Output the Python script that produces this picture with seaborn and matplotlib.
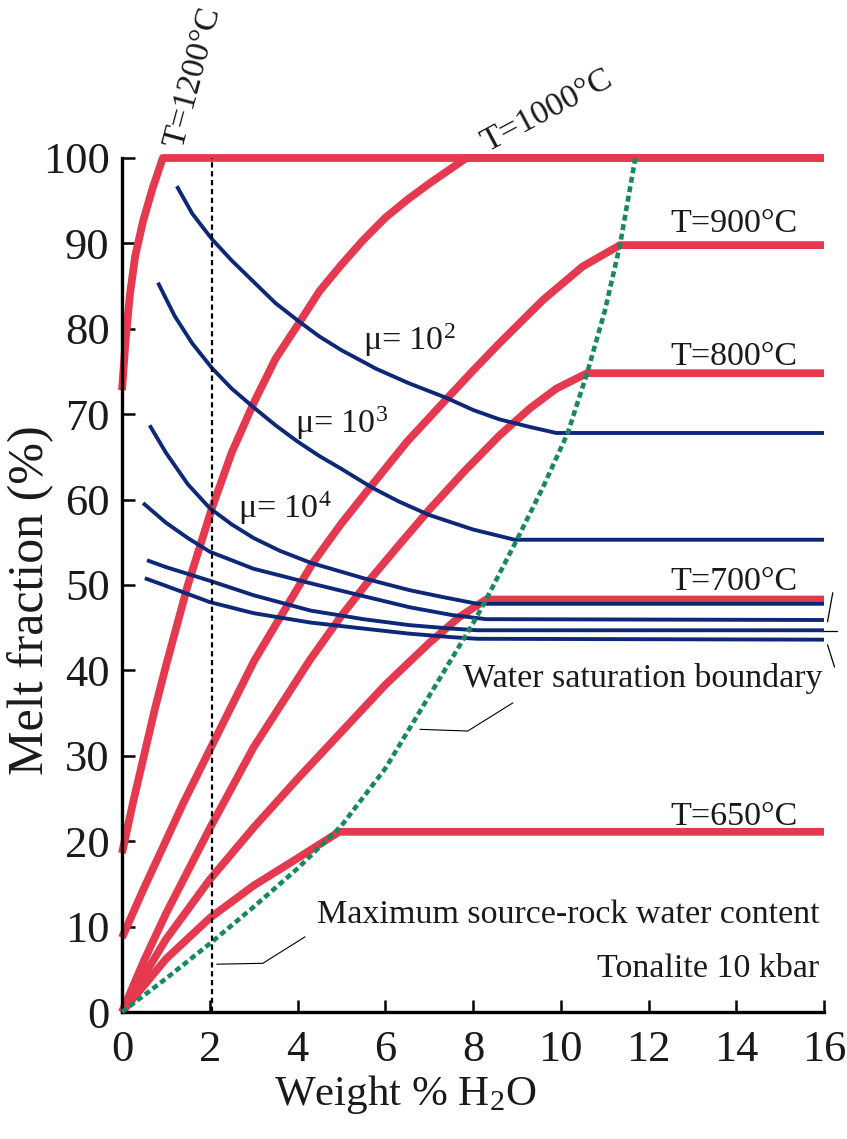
import numpy as np
import pandas as pd
import matplotlib
matplotlib.use("Agg")
import matplotlib.pyplot as plt
import seaborn as sns

# ---------------- data ----------------
t1200_x = [0, 0.08, 0.18, 0.30, 0.48, 0.70, 0.93, 16]
t1200_y = [72.8, 78.5, 84.0, 88.5, 92.6, 96.5, 100, 100]

t1000_x = [0, 0.25, 0.5, 0.75, 1.0, 1.5, 2.05, 2.5, 3.0, 3.5, 4.05, 4.5, 5.0, 5.5, 6.0, 6.5, 7.0, 7.85, 16]
t1000_y = [18.6, 24.5, 30.0, 35.5, 40.5, 50.0, 59.0, 65.5, 71.3, 76.5, 80.8, 84.4, 87.5, 90.4, 93.0, 95.1, 97.0, 100, 100]

t900_x = [0, 0.5, 0.87, 1.4, 2.0, 3.0, 3.3, 4.35, 5.0, 5.65, 6.5, 7.4, 8.0, 8.6, 9.6, 10.5, 11.35, 16]
t900_y = [8.7, 14.5, 18.6, 24.5, 30.7, 41.0, 43.6, 52.6, 57.2, 61.4, 66.8, 71.8, 75.1, 78.3, 83.4, 87.3, 89.8, 89.8]

t800_x = [0, 0.5, 1.0, 2.0, 3.0, 4.28, 5.0, 5.58, 6.3, 7.0, 7.8, 8.6, 9.3, 9.9, 10.6, 16]
t800_y = [0, 6.0, 11.5, 21.5, 31.0, 41.2, 46.4, 50.2, 54.6, 58.8, 63.3, 67.5, 70.7, 73.0, 74.8, 74.8]

t700_x = [0, 1.0, 2.0, 3.0, 4.0, 5.0, 6.0, 7.0, 7.7, 8.3, 16]
t700_y = [0, 8.5, 15.5, 21.6, 27.3, 32.8, 38.3, 43.2, 46.3, 48.3, 48.3]

t650_x = [0, 1.0, 2.0, 3.0, 4.0, 4.95, 16]
t650_y = [0, 6.2, 11.0, 14.8, 18.0, 21.1, 21.1]

sat_x = [0, 1, 2, 3, 4, 5, 6, 7, 8, 8.3, 9.0, 9.6, 10.16, 10.6, 11.0, 11.35, 11.7]
sat_y = [0, 3.9, 8.0, 12.3, 16.8, 21.8, 28.5, 37.0, 45.5, 48.3, 55.3, 61.5, 67.8, 74.8, 82.0, 89.8, 100]

mu2_x = [1.25, 1.6, 2.05, 2.5, 3.0, 3.5, 4.05, 4.5, 5.0, 5.8, 6.55, 7.4, 8.0, 8.6, 9.3, 9.9, 16]
mu2_y = [96.7, 93.5, 90.5, 88.0, 85.5, 83.0, 80.8, 79.1, 77.5, 75.3, 73.6, 71.9, 70.5, 69.4, 68.5, 67.8, 67.8]

mu3_x = [0.82, 1.2, 1.6, 2.05, 2.5, 3.0, 3.5, 4.0, 4.5, 5.0, 5.7, 6.3, 7.0, 8.0, 8.95, 16]
mu3_y = [85.4, 81.5, 78.3, 75.4, 73.0, 70.8, 68.7, 66.8, 65.1, 63.6, 61.4, 59.8, 58.2, 56.5, 55.3, 55.3]

mu4_x = [0.63, 1.0, 1.5, 2.0, 2.5, 3.0, 3.6, 4.3, 5.5, 6.55, 7.3, 8.1, 16]
mu4_y = [68.7, 65.5, 61.8, 59.0, 57.1, 55.5, 54.0, 52.6, 50.8, 49.4, 48.6, 47.8, 47.8]

mu5_x = [0.48, 1.0, 1.5, 2.0, 3.0, 4.3, 5.5, 6.55, 7.5, 8.3, 16]
mu5_y = [59.6, 57.3, 55.5, 53.9, 51.9, 50.2, 48.7, 47.4, 46.5, 46.0, 45.9]

mu6_x = [0.57, 1.0, 2.0, 3.0, 4.3, 5.5, 6.55, 7.5, 8.1, 16]
mu6_y = [52.9, 52.1, 50.5, 48.8, 47.0, 46.0, 45.3, 44.9, 44.7, 44.7]

mu7_x = [0.52, 1.0, 2.0, 3.0, 4.3, 5.5, 6.55, 7.5, 8.1, 16]
mu7_y = [50.8, 49.9, 48.0, 46.7, 45.6, 44.9, 44.3, 43.9, 43.7, 43.6]

max_water_x = [2.05, 2.05]
max_water_y = [0, 100]

x_ticks = [0, 2, 4, 6, 8, 10, 12, 14, 16]
y_ticks = [0, 10, 20, 30, 40, 50, 60, 70, 80, 90, 100]

# ---------------- styling ----------------
sns.set_style("ticks")
plt.rcParams["font.family"] = ["Liberation Serif", "DejaVu Serif"]
plt.rcParams["mathtext.fontset"] = "custom"
plt.rcParams["mathtext.rm"] = "Liberation Serif"
plt.rcParams["mathtext.it"] = "Liberation Serif:italic"
plt.rcParams["text.color"] = "#1a1a1a"

RED = "#E5394F"
BLUE = "#0E2878"
GREEN = "#168A5C"

fig = plt.figure(figsize=(8.47, 11.39), dpi=100)
ax = fig.add_axes([122 / 847, 1 - 1012 / 1139, (824 - 122) / 847, (1012 - 158) / 1139])

def draw(xs, ys, color, lw, z, ls="-"):
    sns.lineplot(x=xs, y=ys, ax=ax, color=color, linewidth=lw, sort=False,
                 estimator=None, zorder=z, linestyle=ls, clip_on=False,
                 solid_capstyle="butt", solid_joinstyle="round")

for xs, ys in [(t1200_x, t1200_y), (t1000_x, t1000_y), (t900_x, t900_y),
               (t800_x, t800_y), (t700_x, t700_y), (t650_x, t650_y)]:
    draw(xs, ys, RED, 5.6, 2)

for xs, ys in [(mu2_x, mu2_y), (mu3_x, mu3_y), (mu4_x, mu4_y),
               (mu5_x, mu5_y), (mu6_x, mu6_y), (mu7_x, mu7_y)]:
    draw(xs, ys, BLUE, 2.8, 3)

draw(sat_x, sat_y, GREEN, 3.3, 4, ls=(0, (1.3, 0.8)))
draw(max_water_x, max_water_y, "black", 1.6, 5, ls=(0, (2.4, 1.6)))

ax.set_xlim(0, 16)
ax.set_ylim(0, 100)
ax.set_xticks(x_ticks)
ax.set_yticks(y_ticks)
ax.set_xticklabels([str(v) for v in x_ticks])
ax.set_yticklabels([str(v) for v in y_ticks])
ax.tick_params(axis="both", direction="in", length=9, width=1.8, labelsize=32,
               colors="black", labelcolor="#1a1a1a")
ax.tick_params(axis="x", pad=13)
ax.tick_params(axis="y", pad=9)
sns.despine(ax=ax)
for s in ["left", "bottom"]:
    ax.spines[s].set_linewidth(2.4)
    ax.spines[s].set_color("black")
ax.set_xlabel("")
ax.set_ylabel("")

fig.text(405 / 847, 1 - 1095 / 1139, "Weight % H$_2$O", fontsize=31,
         ha="center", va="center")
fig.text(31 / 847, 1 - 600 / 1139, "Melt fraction (%)", fontsize=36,
         ha="center", va="center", rotation=90)

# ---------------- annotations ----------------
ts = 24.5
ax.text(1.62, 109.5, "T=1200°C", fontsize=ts, rotation=75, rotation_mode="anchor",
        ha="center", va="center", clip_on=False)
ax.text(9.68, 105.5, "T=1000°C", fontsize=ts, rotation=28, rotation_mode="anchor",
        ha="center", va="center", clip_on=False)
ax.text(13.95, 91.3, "T=900°C", fontsize=ts, ha="center", va="baseline")
ax.text(13.95, 75.8, "T=800°C", fontsize=ts, ha="center", va="baseline")
ax.text(13.95, 49.4, "T=700°C", fontsize=ts, ha="center", va="baseline")
ax.text(13.95, 21.9, "T=650°C", fontsize=ts, ha="center", va="baseline")

ax.text(5.49, 77.5, "μ= 10$^{2}$", fontsize=ts, ha="left", va="baseline")
ax.text(3.94, 67.8, "μ= 10$^{3}$", fontsize=ts, ha="left", va="baseline")
ax.text(2.64, 57.8, "μ= 10$^{4}$", fontsize=ts, ha="left", va="baseline")

ax.text(15.97, 38.1, "Water saturation boundary", fontsize=ts, ha="right", va="baseline")
ax.text(15.9, 10.4, "Maximum source-rock water content", fontsize=ts, ha="right",
        va="baseline")
ax.text(15.9, 4.1, "Tonalite 10 kbar", fontsize=ts, ha="right", va="baseline")

# leader lines
ax.plot([8.91, 7.88, 6.79], [36.2, 32.9, 33.1], color="black", lw=0.8, zorder=6)
ax.plot([4.17, 3.21, 2.16], [8.8, 5.7, 5.6], color="black", lw=0.8, zorder=6)

# bracket outside the axes on the right
ax.plot([16.2, 16.08], [49.1, 45.7], color="black", lw=0.9, clip_on=False)
ax.plot([15.95, 16.29], [44.6, 44.6], color="black", lw=0.9, clip_on=False)
ax.plot([16.08, 16.24], [43.0, 40.4], color="black", lw=0.9, clip_on=False)

fig.savefig("out.png", dpi=100, facecolor="white")
